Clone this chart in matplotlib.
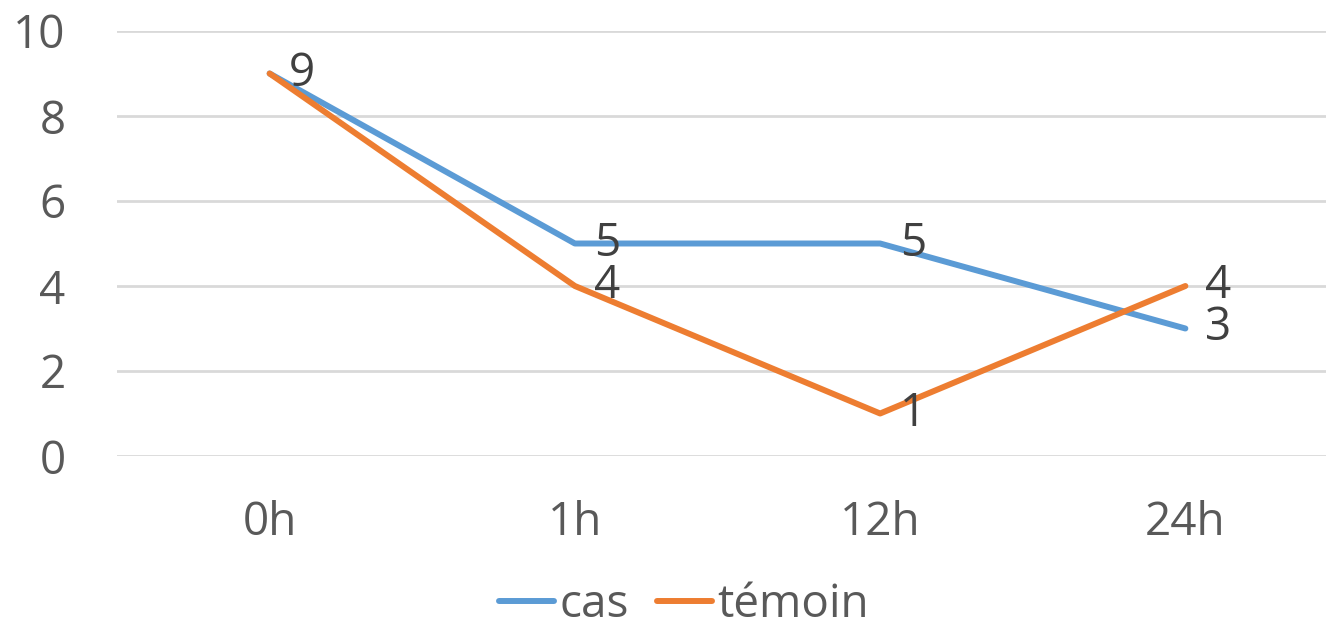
import matplotlib.pyplot as plt

plt.rcParams['font.family'] = ['Open Sans', 'DejaVu Sans']

# Données
temps = ['0h', '1h', '12h', '24h']
cas = [9, 5, 5, 3]
temoin = [9, 4, 1, 4]

bleu = '#5B9BD5'
orange = '#ED7D31'
gris = '#595959'

fig = plt.figure(figsize=(13.26, 6.3), dpi=100)
ax = fig.add_axes([117 / 1326, 174 / 630, 1221 / 1326, 425 / 630])

x = range(len(temps))
ax.plot(x, cas, color=bleu, lw=4.3, solid_capstyle='round', label='cas', zorder=3)
ax.plot(x, temoin, color=orange, lw=4.3, solid_capstyle='round', label='témoin', zorder=4)

# Étiquettes de valeurs
for xi, v in zip(x, cas):
    ax.annotate(str(v), (xi, v), xytext=(14, 0), textcoords='offset points',
                ha='left', va='center', fontsize=33, color='#404040', zorder=5)
for xi, v in zip(x, temoin):
    if xi == 0:
        continue
    ax.annotate(str(v), (xi, v), xytext=(14, 0), textcoords='offset points',
                ha='left', va='center', fontsize=33, color='#404040', zorder=5)

ax.set_xlim(-0.5, 3.5)
ax.set_ylim(0, 10)
ax.set_yticks(range(0, 11, 2))
ax.set_xticks(list(x))
ax.set_xticklabels(temps)
ax.grid(axis='y', color='#D9D9D9', lw=2)
ax.set_axisbelow(True)
for s in ax.spines.values():
    s.set_visible(False)
ax.tick_params(length=0, labelsize=33, colors=gris)
ax.tick_params(axis='y', pad=37)
ax.tick_params(axis='x', pad=32)
for lab in ax.get_yticklabels():
    lab.set_horizontalalignment('right')

leg = fig.legend(loc='center', bbox_to_anchor=(684 / 1326, 25 / 630), ncol=2,
                 frameon=False, fontsize=33, handlelength=1.2, handletextpad=0.12,
                 columnspacing=0.6)
for t in leg.get_texts():
    t.set_color(gris)

fig.savefig('out.png', dpi=100)
